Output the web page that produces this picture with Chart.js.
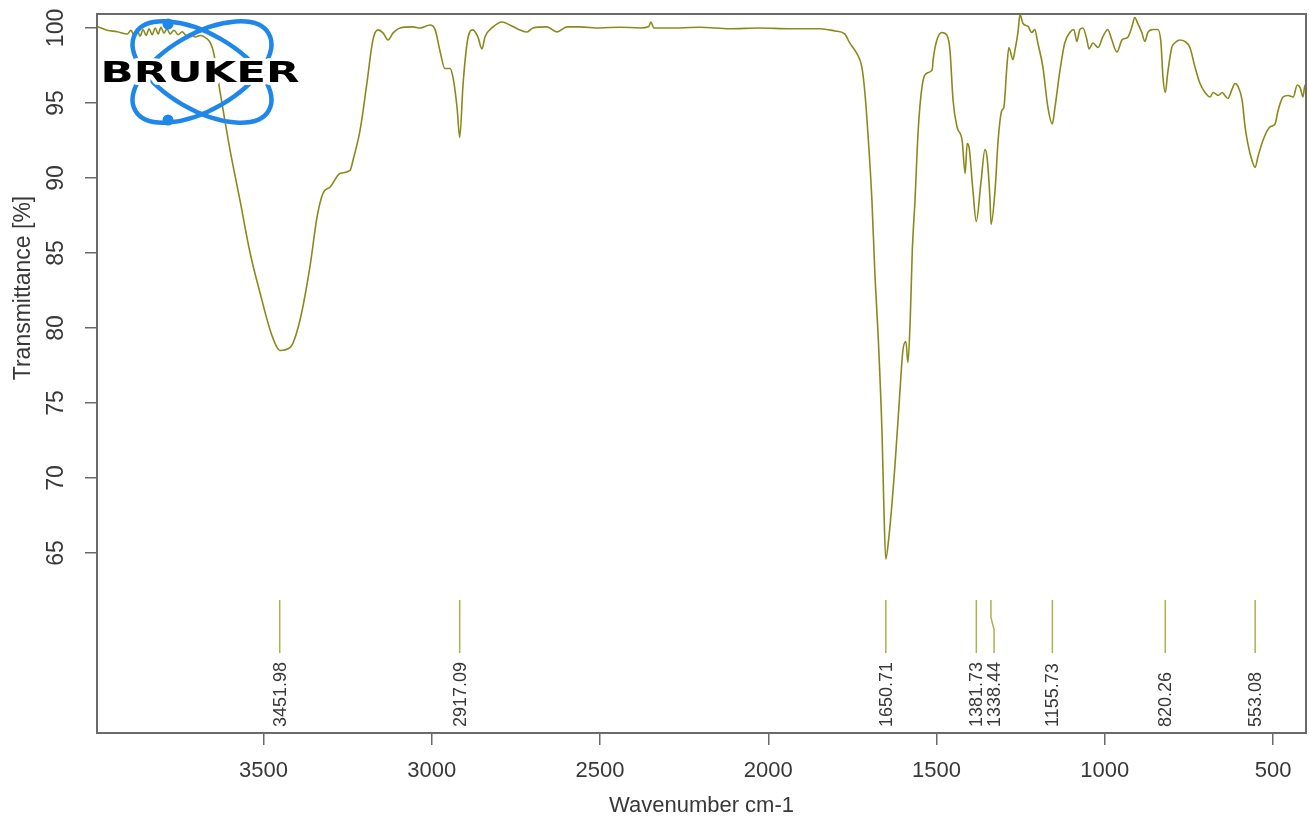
<!DOCTYPE html>
<html>
<head>
<meta charset="utf-8">
<script src="https://cdn.jsdelivr.net/npm/chart.js@4.4.1/dist/chart.umd.min.js"></script>
<style>
html,body{margin:0;padding:0;background:#fff;}
#wrap{width:1309px;height:819px;position:relative;}
</style>
</head>
<body>
<div id="wrap"><canvas id="c"></canvas></div>
<script>
// ---- data ----
const wavenumbers = [
  3995,3965,3935,3905,3894,3885,3876,3867,3858,3849,3840,3831,3822,3813,3805,3796,3787,3778,3766,3754,
  3742,3730,3718,3703,3689,3680,3650,3629,3620,3600,3570,3540,3510,3481,3460,3452,3421,3392,3362,3341,
  3323,3302,3273,3243,3234,3213,3193,3175,3160,3145,3130,3115,3094,3056,3035,3005,2990,2976,2961,2946,
  2937,2925,2917,2907,2892,2878,2863,2851,2842,2818,2791,2768,2738,2717,2699,2658,2628,2598,2560,2500,
  2441,2381,2355,2349,2340,2263,2203,2114,2025,1936,1846,1802,1773,1758,1737,1722,1713,1704,1692,1683,
  1674,1662,1657,1651,1641,1624,1609,1600,1591,1585,1578,1572,1564,1555,1543,1528,1513,1510,1499,1484,
  1469,1460,1451,1439,1424,1415,1409,1403,1392,1382,1368,1356,1350,1341,1338,1326,1317,1306,1300,1291,
  1285,1273,1267,1258,1252,1243,1228,1217,1208,1199,1184,1169,1156,1148,1133,1119,1104,1092,1083,1074,
  1065,1053,1047,1035,1020,1006,991,979,964,949,940,931,919,911,902,890,881,872,857,842,
  833,827,820,813,801,792,777,762,747,732,717,702,687,678,663,651,643,634,622,613,
  604,592,583,575,563,553,545,530,509,494,485,470,455,440,428,419,411,405,402
];
const transmittance = [
  100.1,99.85,99.75,99.6,99.85,99.5,99.9,99.45,99.9,99.5,99.95,99.55,100.0,99.6,100.05,99.65,99.95,99.6,99.85,99.55,
  99.75,99.5,99.6,99.4,99.5,99.45,98.5,95.7,94.5,91.9,88.5,85.0,82.3,79.9,78.7,78.5,78.7,80.5,84.1,87.4,
  89.0,89.4,90.3,90.5,91.2,93.2,96.3,99.2,99.87,99.67,99.2,99.67,100.0,100.07,100.0,100.2,99.87,98.5,97.3,97.3,
  96.7,94.7,92.7,96.3,99.4,99.87,99.4,98.6,99.4,100.07,100.4,100.2,99.87,99.73,100.0,100.07,99.73,100.07,100.07,100.0,
  100.05,100.0,100.1,100.4,100.0,100.0,100.05,99.95,100.0,99.95,99.95,99.8,99.6,99.0,98.3,97.4,95.7,93.0,88.5,83.5,
  79.7,73.0,68.5,64.6,66.2,70.7,75.7,78.5,79.1,77.7,80.7,85.2,88.5,93.0,96.1,97.0,97.2,97.9,99.2,99.7,
  99.5,98.5,95.2,93.4,92.5,90.3,92.3,92.0,89.2,87.1,89.7,91.9,91.4,88.5,86.9,89.2,92.5,94.5,94.7,97.4,
  98.7,97.9,98.5,99.7,100.9,100.3,100.1,99.7,99.9,99.0,97.4,94.7,93.6,94.7,97.2,99.0,99.7,99.9,99.1,99.9,
  100.0,99.2,98.6,99.0,98.7,99.4,99.9,99.2,98.4,99.2,99.3,99.4,100.1,100.7,100.3,99.7,99.1,99.7,99.9,99.9,
  99.0,96.7,95.7,97.0,98.7,99.0,99.2,99.1,98.7,97.4,96.3,95.7,95.4,95.7,95.5,95.7,95.5,95.3,95.9,96.3,
  96.1,95.2,93.4,92.3,91.2,90.7,91.4,92.5,93.4,93.6,94.5,95.4,95.5,95.4,96.2,96.0,95.4,96.2,96.0
];
const peakPositions = [3451.98, 2917.09, 1650.71, 1381.73, 1338.44, 1155.73, 820.26, 553.08];
const peakLabels = ["3451.98", "2917.09", "1650.71", "1381.73", "1338.44", "1155.73", "820.26", "553.08"];
const peakLabelPositions = [3451.98, 2917.09, 1650.71, 1381.73, 1329, 1155.73, 820.26, 553.08];
const markerLevels = [61.87, 60.7, 59.9, 58.33]; // top, bend start, bend end, bottom
const peakLabelStart = 53.4;
const xTicks = [3500, 3000, 2500, 2000, 1500, 1000, 500];
const yTicks = [65, 70, 75, 80, 85, 90, 95, 100];
const xRange = [402, 3995];
const yRange = [53, 100.93];

const FONT = "'Liberation Sans', Arial, sans-serif";
const SPEC_COLOR = '#8a8a1c';
const MARK_COLOR = '#aab24c';
const TEXT_COLOR = '#383838';
const AXIS_COLOR = '#6a6a6a';

const spectrum = wavenumbers.map((w, i) => ({x: w, y: transmittance[i]}));

const markerSets = peakPositions.map((p, i) => {
  const lp = peakLabelPositions[i];
  const pts = (lp === p)
    ? [{x: p, y: markerLevels[0]}, {x: p, y: markerLevels[3]}]
    : [{x: p, y: markerLevels[0]}, {x: p, y: markerLevels[1]}, {x: lp, y: markerLevels[2]}, {x: lp, y: markerLevels[3]}];
  return {
    data: pts, borderColor: MARK_COLOR, borderWidth: 1.5, pointRadius: 0, tension: 0, fill: false
  };
});

const boxPlugin = {
  id: 'box',
  afterDatasetsDraw(chart) {
    const {ctx, chartArea: a} = chart;
    ctx.save();
    ctx.strokeStyle = AXIS_COLOR;
    ctx.lineWidth = 2;
    ctx.strokeRect(a.left, a.top, a.right - a.left, a.bottom - a.top);
    ctx.restore();
  }
};

const peakLabelPlugin = {
  id: 'peakLabels',
  afterDatasetsDraw(chart) {
    const {ctx, scales: {x, y}} = chart;
    ctx.save();
    ctx.fillStyle = TEXT_COLOR;
    ctx.font = '18px ' + FONT;
    ctx.textAlign = 'left';
    ctx.textBaseline = 'middle';
    peakLabels.forEach((lab, i) => {
      const px = x.getPixelForValue(peakLabelPositions[i]) + 1;
      const py = y.getPixelForValue(peakLabelStart);
      ctx.save();
      ctx.translate(px, py);
      ctx.rotate(-Math.PI / 2);
      ctx.fillText(lab, 0, 0);
      ctx.restore();
    });
    ctx.restore();
  }
};

const yTitlePlugin = {
  id: 'yTitle',
  afterDraw(chart) {
    const {ctx, chartArea: a} = chart;
    ctx.save();
    ctx.fillStyle = TEXT_COLOR;
    ctx.font = '23px ' + FONT;
    ctx.textAlign = 'center';
    ctx.textBaseline = 'middle';
    ctx.translate(a.left - 73, a.top + 274);
    ctx.rotate(-Math.PI / 2);
    ctx.fillText('Transmittance [%]', 0, 0);
    ctx.restore();
  }
};

const logoPlugin = {
  id: 'logo',
  afterDraw(chart) {
    const ctx = chart.ctx;
    ctx.save();
    const cx = 202, cy = 72;
    ctx.strokeStyle = '#1f87ea';
    ctx.lineWidth = 4.5;
    [Math.PI / 6, -Math.PI / 6].forEach(r => {
      ctx.beginPath();
      ctx.ellipse(cx, cy, 77, 38, r, 0, 2 * Math.PI);
      ctx.stroke();
    });
    ctx.fillStyle = '#1f87ea';
    [[168, 24], [168, 120]].forEach(([px, py]) => {
      ctx.beginPath();
      ctx.arc(px, py, 5.5, 0, 2 * Math.PI);
      ctx.fill();
    });
    ctx.translate(200, 74);
    ctx.scale(1.5, 1);
    ctx.font = "bold 29px 'DejaVu Sans', sans-serif";
    ctx.textAlign = 'center';
    ctx.textBaseline = 'middle';
    ctx.lineJoin = 'round';
    ctx.lineWidth = 6;
    ctx.strokeStyle = '#ffffff';
    ctx.strokeText('BRUKER', 0, 0);
    ctx.fillStyle = '#000000';
    ctx.fillText('BRUKER', 0, 0);
    ctx.restore();
  }
};

new Chart(document.getElementById('c'), {
  type: 'line',
  data: {
    datasets: [
      {
        data: spectrum,
        borderColor: SPEC_COLOR,
        borderWidth: 1.6,
        pointRadius: 0,
        fill: false,
        tension: 0.3,
        cubicInterpolationMode: 'monotone'
      },
      ...markerSets
    ]
  },
  options: {
    responsive: true,
    maintainAspectRatio: false,
    devicePixelRatio: 1,
    animation: false,
    events: [],
    layout: {padding: {left: 0, right: 3, top: 14, bottom: 0}},
    plugins: {legend: {display: false}, tooltip: {enabled: false}},
    scales: {
      x: {
        type: 'linear',
        position: 'bottom',
        reverse: true,
        min: xRange[0],
        max: xRange[1],
        afterBuildTicks: s => { s.ticks = xTicks.map(v => ({value: v})); },
        afterFit: s => { s.height = 86; s.paddingLeft = 0; s.paddingRight = 0; },
        border: {display: false},
        grid: {display: true, drawOnChartArea: false, drawTicks: true, tickLength: 12, color: AXIS_COLOR, lineWidth: 1.5},
        ticks: {
          autoSkip: false, maxRotation: 0, minRotation: 0, padding: 13,
          color: TEXT_COLOR, font: {family: FONT, size: 22},
          callback: v => String(v)
        },
        title: {
          display: true, text: 'Wavenumber cm-1', color: TEXT_COLOR,
          font: {family: FONT, size: 22}, padding: {top: 0, bottom: 0}
        }
      },
      y: {
        type: 'linear',
        position: 'left',
        min: yRange[0],
        max: yRange[1],
        afterBuildTicks: s => { s.ticks = yTicks.map(v => ({value: v})); },
        afterFit: s => { s.width = 97; s.paddingTop = 0; s.paddingBottom = 0; },
        border: {display: false},
        grid: {display: true, drawOnChartArea: false, drawTicks: true, tickLength: 12, color: AXIS_COLOR, lineWidth: 1.5},
        ticks: {
          autoSkip: false, minRotation: 90, maxRotation: 90, crossAlign: 'center', padding: 9,
          color: TEXT_COLOR, font: {family: FONT, size: 23},
          callback: v => String(v)
        }
      }
    }
  },
  plugins: [boxPlugin, peakLabelPlugin, yTitlePlugin, logoPlugin]
});
</script>
</body>
</html>
